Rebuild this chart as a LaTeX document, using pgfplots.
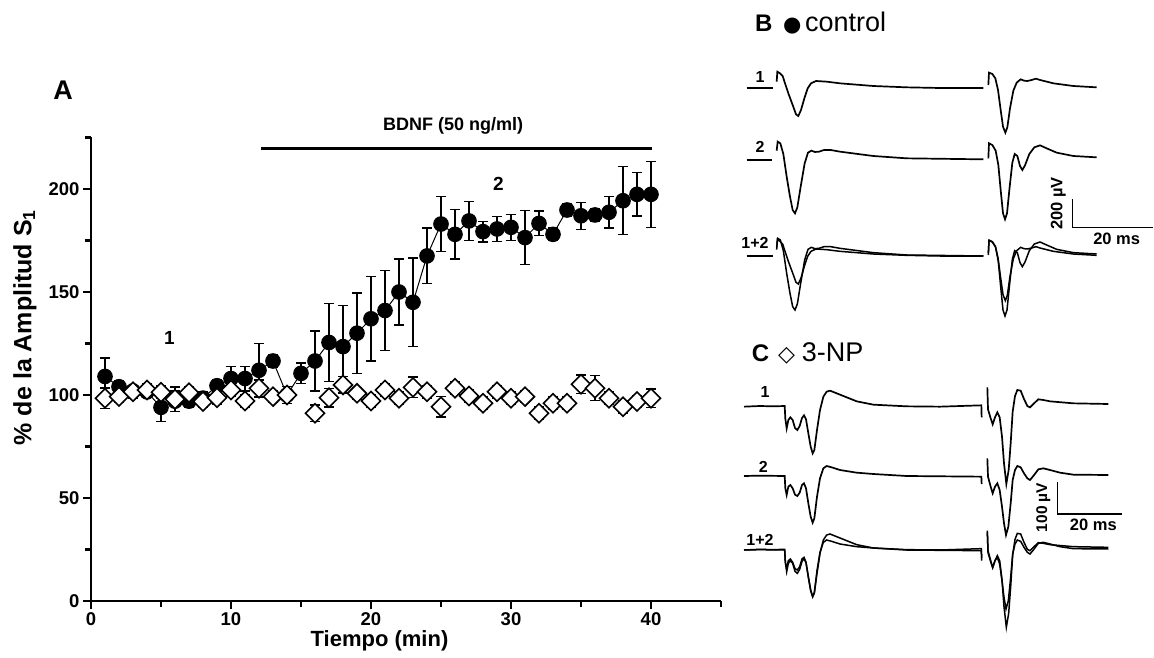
\documentclass[border=0pt]{standalone}
\usepackage{fontspec}
\setmainfont{Liberation Sans}
\newfontfamily\dejavu{DejaVu Sans}
\usepackage{pgfplots}
\usepackage{pgfplotstable}
\pgfplotsset{compat=1.18}

% Panel A data: time (min), % amplitude, SEM
\pgfplotstableread{
x y e
1 109 9
2 104 3
3 102 2
4 101.5 2
5 94 7
6 97 5
7 97 3
8 98.5 3
9 104.5 3
10 108 6
11 108 6
12 112 13
13 116.5 3
14 100 2
15 110.5 5
16 116.5 14.5
17 125.5 19
18 123.5 20
19 130 19.5
20 137 20.5
21 141 19.5
22 150 16
23 145 21.5
24 167.5 13.5
25 183 13.5
26 178 12
27 184.5 9.5
28 179.3 5
29 180.6 6
30 181.4 6.3
31 176.4 13
32 183.3 6
33 178 3
34 189.8 3
35 187 6.5
36 187.4 3
37 188.7 7.6
38 194.3 16.5
39 197.4 10.5
40 197.4 16
}\controldata

\pgfplotstableread{
x y e
1 98.4 5
2 99.2 3
3 101.6 3
4 102.4 3
5 101.3 3
6 97.9 6
7 101.1 3
8 96.8 3
9 98.7 3
10 102.4 3
11 97.1 3
12 103.3 4
13 99.2 3
14 100 4
16 91.1 4
17 98.7 4.6
18 104.9 4
19 100.8 3
20 97.1 3
21 102.4 3
22 98.4 3
23 103.7 5
24 101.6 3
25 94.3 5
26 103.3 3
27 99.5 3
28 96 3
29 101.6 3
30 98.4 3
31 99.2 3
32 91.1 3
33 96 3
34 96 3
35 105.2 4.5
36 103.3 6
37 98.4 3
38 94.3 3
39 96.8 3
40 98.4 4.5
}\npdata

% Traces (read in 3x zoom pixel units)
\pgfplotstableread{
x y
110 245
112 215
120 220
128 228
135 250
145 280
158 315
168 343
175 348
183 330
193 295
203 265
213 250
228 243
260 245
300 250
400 258
500 262
600 264
730 264
}\Baa
\pgfplotstableread{
x y
745 255
747 218
757 222
766 235
774 270
782 330
789 380
796 398
802 382
810 325
820 272
830 248
842 238
852 242
862 243
875 240
888 236
900 240
940 250
1000 258
1070 262
}\Bab
\pgfplotstableread{
x y
110 452
113 425
121 430
130 462
140 530
150 590
158 630
165 640
172 622
182 560
194 490
204 458
214 452
225 456
237 455
252 450
272 450
300 455
400 468
500 475
730 478
}\Bba
\pgfplotstableread{
x y
745 475
747 430
757 435
767 452
775 495
782 570
789 640
795 658
801 640
808 570
817 488
824 462
832 468
840 498
847 510
855 496
868 462
883 442
900 436
920 445
950 458
1000 468
1070 472
}\Bbb
\pgfplotstableread{
x y
12 230
60 228
100 229
134 228
136 266
140 295
145 270
151 262
158 270
165 294
172 300
179 288
186 264
192 256
198 268
205 310
212 350
218 370
223 360
231 300
240 240
250 200
260 185
270 182
290 190
320 202
350 214
400 224
500 229
600 230
724 226
725 262
}\Caa
\pgfplotstableread{
x y
742 172
744 238
752 265
758 283
765 262
772 247
779 262
786 320
792 400
799 462
806 420
812 340
818 245
825 198
832 180
842 182
852 207
862 228
870 232
880 222
895 208
910 210
930 214
1000 220
1105 222
}\Cab
\pgfplotstableread{
x y
12 438
60 437
134 438
136 475
140 495
145 470
151 465
158 475
165 494
172 498
179 488
186 465
192 460
198 475
205 520
212 560
218 578
223 565
231 500
240 445
250 415
260 408
275 412
300 420
350 428
400 432
500 438
724 440
725 462
}\Cba
\pgfplotstableread{
x y
742 385
744 440
752 470
758 490
765 470
772 460
779 480
786 530
792 580
798 615
805 590
812 520
818 450
825 420
832 408
842 412
852 430
862 445
870 450
880 438
895 418
910 415
930 420
960 428
1000 434
1105 435
}\Cbb

\begin{document}
\begin{tikzpicture}
\useasboundingbox (0,0) rectangle (1154pt,658pt);
% ---------------- Panel A ----------------
\begin{axis}[
  at={(91pt,57pt)}, anchor=south west,
  scale only axis, width=630pt, height=463.5pt,
  xmin=0, xmax=45, ymin=0, ymax=225,
  axis x line=bottom, axis y line=left,
  axis line style={-, line width=2.6pt},
  xtick={0,10,20,30,40}, minor xtick={5,15,25,35,45},
  ytick={0,50,100,150,200}, minor ytick={25,75,125,175,225},
  tick align=outside,
  major tick length=8pt, minor tick length=6pt,
  major tick style={line width=2.6pt, black},
  minor tick style={line width=2.2pt, black},
  /pgf/number format/assume math mode=true,
  tick label style={font=\bfseries\fontsize{18.5}{20}\selectfont},
  xlabel={Tiempo (min)},
  xlabel style={font=\bfseries\fontsize{22}{24}\selectfont, at={(ticklabel cs:0.458)}, anchor=north, yshift=2pt},
  ylabel={\% de la Amplitud S\textsubscript{1}},
  ylabel style={font=\bfseries\fontsize{25}{28}\selectfont, at={(axis description cs:-0.105,0.59)}, anchor=center},
  clip=false,
]
\addplot[black, line width=1pt, mark=*, mark size=7.3pt, mark options={fill=black, line width=1pt},
  error bars/.cd, y dir=both, y explicit,
  error bar style={line width=1.3pt, black},
  error mark options={rotate=90, mark size=4.7pt, line width=1.3pt, black}]
  table[x=x, y=y, y error=e] {\controldata};
\addplot[black, only marks, mark=square*, mark size=6.7pt, mark options={rotate=45, fill=white, line width=1.6pt},
  error bars/.cd, y dir=both, y explicit,
  error bar style={line width=1.3pt, black},
  error mark options={rotate=90, mark size=4.7pt, line width=1.3pt, black}]
  table[x=x, y=y, y error=e] {\npdata};
\draw[line width=3pt] (axis cs:12.15,219.5) -- (axis cs:40.05,219.5);
\node[font=\bfseries\fontsize{18}{20}\selectfont] at (axis cs:25.86,230.6) {BDNF (50 ng/ml)};
\node[font=\bfseries\fontsize{19}{20}\selectfont] at (axis cs:5.6,127.5) {1};
\node[font=\bfseries\fontsize{19}{20}\selectfont] at (axis cs:29.1,202.3) {2};
\end{axis}
% ---------------- Panels B and C (pixel frame) ----------------
\begin{axis}[
  at={(0pt,0pt)}, anchor=south west,
  scale only axis, width=1154pt, height=658pt,
  xmin=0, xmax=1154, ymin=0, ymax=658, y dir=reverse,
  hide axis, clip=false,
]
\node[font=\bfseries\fontsize{27}{30}\selectfont] at (axis cs:63,90) {A};
% B header
\node[anchor=base west, inner sep=0pt, font=\bfseries\fontsize{24}{26}\selectfont] at (axis cs:755,31.7) {B};
\node[anchor=base west, inner sep=0pt, font=\dejavu\fontsize{21}{26}\selectfont] at (axis cs:783,31.7) {●};
\node[anchor=base west, inner sep=0pt, font=\fontsize{27}{30}\selectfont] at (axis cs:805,31.7) {control};
% C header
\node[anchor=base west, inner sep=0pt, font=\bfseries\fontsize{24}{26}\selectfont] at (axis cs:751.7,361.7) {C};
\node[anchor=base west, inner sep=0pt, font=\dejavu\fontsize{22}{26}\selectfont] at (axis cs:778,361.7) {◇};
\node[anchor=base west, inner sep=0pt, font=\fontsize{27}{30}\selectfont] at (axis cs:801.7,361.7) {3-NP};
% B traces
\addplot[black, line width=1.7pt] table[x expr=740+\thisrow{x}/3, y expr=\thisrow{y}/3] {\Baa};
\addplot[black, line width=1.7pt] table[x expr=740+\thisrow{x}/3, y expr=\thisrow{y}/3] {\Bab};
\addplot[black, line width=1.7pt] table[x expr=740+\thisrow{x}/3, y expr=\thisrow{y}/3] {\Bba};
\addplot[black, line width=1.7pt] table[x expr=740+\thisrow{x}/3, y expr=\thisrow{y}/3] {\Bbb};
\addplot[black, line width=1.5pt] table[x expr=740+\thisrow{x}/3, y expr=(\thisrow{y}+504)/3] {\Baa};
\addplot[black, line width=1.5pt] table[x expr=740+\thisrow{x}/3, y expr=(\thisrow{y}+504)/3] {\Bab};
\addplot[black, line width=1.5pt] table[x expr=740+\thisrow{x}/3, y expr=(\thisrow{y}+290)/3] {\Bba};
\addplot[black, line width=1.5pt] table[x expr=740+\thisrow{x}/3, y expr=(\thisrow{y}+290)/3] {\Bbb};
% C traces
\addplot[black, line width=1.7pt] table[x expr=740+\thisrow{x}/3, y expr=330+\thisrow{y}/3] {\Caa};
\addplot[black, line width=1.7pt] table[x expr=740+\thisrow{x}/3, y expr=330+\thisrow{y}/3] {\Cab};
\addplot[black, line width=1.7pt] table[x expr=740+\thisrow{x}/3, y expr=330+\thisrow{y}/3] {\Cba};
\addplot[black, line width=1.7pt] table[x expr=740+\thisrow{x}/3, y expr=330+\thisrow{y}/3] {\Cbb};
\addplot[black, line width=1.5pt] table[x expr=740+\thisrow{x}/3, y expr=330+(\thisrow{y}+430)/3] {\Caa};
\addplot[black, line width=1.5pt] table[x expr=740+\thisrow{x}/3, y expr=330+(\thisrow{y}+430)/3] {\Cab};
\addplot[black, line width=1.5pt] table[x expr=740+\thisrow{x}/3, y expr=330+(\thisrow{y}+222)/3] {\Cba};
\addplot[black, line width=1.5pt] table[x expr=740+\thisrow{x}/3, y expr=330+(\thisrow{y}+222)/3] {\Cbb};
% B trace labels and baseline ticks
\node[font=\bfseries\fontsize{16}{18}\selectfont] at (axis cs:760,76.7) {1};
\node[font=\bfseries\fontsize{16}{18}\selectfont] at (axis cs:760,146.7) {2};
\node[font=\bfseries\fontsize{16}{18}\selectfont] at (axis cs:755,242.7) {1+2};
\draw[line width=1.7pt] (axis cs:746.7,88.3) -- (axis cs:773.3,88.3);
\draw[line width=1.7pt] (axis cs:746.7,160) -- (axis cs:772,160);
\draw[line width=1.7pt] (axis cs:746.7,256) -- (axis cs:773,256);
% B scale bar
\draw[line width=1.4pt] (axis cs:1072.7,199.3) -- (axis cs:1072.7,227.7) -- (axis cs:1153.3,227.7);
\node[rotate=90, font=\bfseries\fontsize{16.5}{18}\selectfont] at (axis cs:1058.3,203.3) {200 µV};
\node[font=\bfseries\fontsize{16.5}{18}\selectfont] at (axis cs:1116.7,239.3) {20 ms};
% C trace labels
\node[font=\bfseries\fontsize{16}{18}\selectfont] at (axis cs:765,391.7) {1};
\node[font=\bfseries\fontsize{16}{18}\selectfont] at (axis cs:763.3,466.7) {2};
\node[font=\bfseries\fontsize{16}{18}\selectfont] at (axis cs:760,540) {1+2};
% C scale bar
\draw[line width=1.4pt] (axis cs:1057.3,481.7) -- (axis cs:1057.3,514) -- (axis cs:1122.3,514);
\node[rotate=90, font=\bfseries\fontsize{15.5}{18}\selectfont] at (axis cs:1043.3,507.5) {100 µV};
\node[font=\bfseries\fontsize{16.5}{18}\selectfont] at (axis cs:1093.3,525) {20 ms};
\end{axis}
\end{tikzpicture}
\end{document}
